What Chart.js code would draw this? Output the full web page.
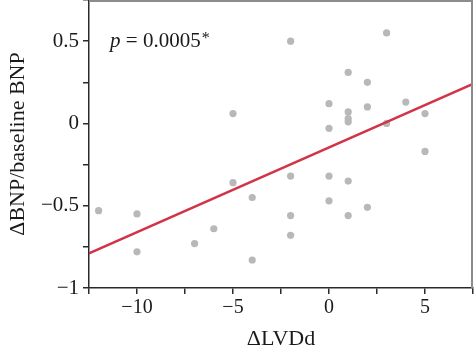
<!DOCTYPE html>
<html>
<head>
<meta charset="utf-8">
<script src="https://cdn.jsdelivr.net/npm/chart.js@4"></script>
<style>
  html, body { margin: 0; padding: 0; background: #fff; }
  #wrap { width: 474px; height: 352px; }
</style>
</head>
<body>
<div id="wrap"><canvas id="grafico" width="474" height="352"></canvas></div>
<script>
// datos
const deltaLVDd = [-12, -10, -10, -7, -6, -5, -5, -4, -4, -2, -2, -2, -2,
  0, 0, 0, 0, 1, 1, 1, 1, 1, 1, 2, 2, 2, 3, 3, 4, 5, 5];
const deltaBNP = [-0.53, -0.55, -0.78, -0.73, -0.64, 0.06, -0.36, -0.45, -0.83, 0.50, -0.32, -0.56, -0.68,
  0.12, -0.03, -0.32, -0.47, 0.31, 0.07, 0.03, 0.01, -0.35, -0.56, 0.25, 0.10, -0.51, 0.55, 0.00, 0.13, 0.06, -0.17];
// recta de regresion (extremos)
const lineaX = [-12.5, 7.5];
const lineaY = [-0.79, 0.24];

const fuente = "'Liberation Serif', 'DejaVu Serif', serif";
const menos = v => (v < 0 ? '\u2212' + Math.abs(v) : String(v));

// texto del valor p y marco gris arriba/derecha
const extras = {
  id: 'extras',
  afterDraw(chart) {
    const c = chart.ctx;
    const a = chart.chartArea;
    c.save();
    c.strokeStyle = '#8c8c8c';
    c.lineWidth = 2;
    c.beginPath();
    c.moveTo(a.left, a.top + 1);
    c.lineTo(a.right - 1, a.top + 1);
    c.lineTo(a.right - 1, a.bottom);
    c.stroke();

    const x = chart.scales.x.getPixelForValue(-11.4);
    const y = chart.scales.y.getPixelForValue(0.5);
    c.fillStyle = '#1a1a1a';
    c.textBaseline = 'middle';
    c.font = "italic 21px " + fuente;
    c.fillText('p', x, y);
    let px = x + c.measureText('p').width;
    c.font = "21px " + fuente;
    const resto = ' = 0.0005';
    c.fillText(resto, px, y);
    px += c.measureText(resto).width;
    c.font = "16px " + fuente;
    c.fillText('*', px + 1, y - 2);
    c.restore();
  }
};

new Chart(document.getElementById('grafico').getContext('2d'), {
  type: 'scatter',
  data: {
    datasets: [{
      type: 'line',
      data: lineaX.map((x, i) => ({ x: x, y: lineaY[i] })),
      borderColor: '#d23447',
      borderWidth: 2.5,
      pointRadius: 0,
      fill: false,
      order: 0
    }, {
      data: deltaLVDd.map((x, i) => ({ x: x, y: deltaBNP[i] })),
      backgroundColor: '#b8b8b8',
      borderWidth: 0,
      pointRadius: 3.6,
      order: 1
    }]
  },
  options: {
    responsive: false,
    animation: false,
    layout: { autoPadding: false, padding: { top: 0, right: 1, left: 0, bottom: 0 } },
    plugins: {
      legend: { display: false },
      tooltip: { enabled: false }
    },
    scales: {
      x: {
        type: 'linear',
        min: -12.5,
        max: 7.5,
        afterFit: s => { s.height = 64; s.paddingLeft = 0; s.paddingRight = 0; },
        ticks: {
          stepSize: 2.5,
          color: '#1a1a1a',
          font: { family: fuente, size: 20 },
          padding: 2,
          maxRotation: 0,
          callback: v => (v % 5 === 0 ? menos(v) : '')
        },
        grid: { drawOnChartArea: false, drawTicks: true, tickLength: 6, color: '#2a2a2a', lineWidth: 1.5 },
        border: { display: true, color: '#2a2a2a', width: 1.5 },
        title: {
          display: true,
          text: '\u0394LVDd',
          color: '#1a1a1a',
          font: { family: fuente, size: 22 },
          padding: { top: 0, bottom: 0 }
        }
      },
      y: {
        type: 'linear',
        min: -1,
        max: 0.75,
        afterFit: s => { s.width = 89; s.paddingTop = 0; s.paddingBottom = 0; },
        ticks: {
          stepSize: 0.25,
          color: '#1a1a1a',
          font: { family: fuente, size: 21 },
          padding: 4,
          callback: v => (Math.abs(v * 2 - Math.round(v * 2)) < 1e-9 ? menos(v) : '')
        },
        grid: { drawOnChartArea: false, drawTicks: true, tickLength: 6, color: '#2a2a2a', lineWidth: 1.5 },
        border: { display: true, color: '#2a2a2a', width: 1.5 },
        title: {
          display: true,
          text: '\u0394BNP/baseline BNP',
          color: '#1a1a1a',
          font: { family: fuente, size: 22 },
          padding: { top: 5, bottom: 0 }
        }
      }
    }
  },
  plugins: [extras]
});
</script>
</body>
</html>
